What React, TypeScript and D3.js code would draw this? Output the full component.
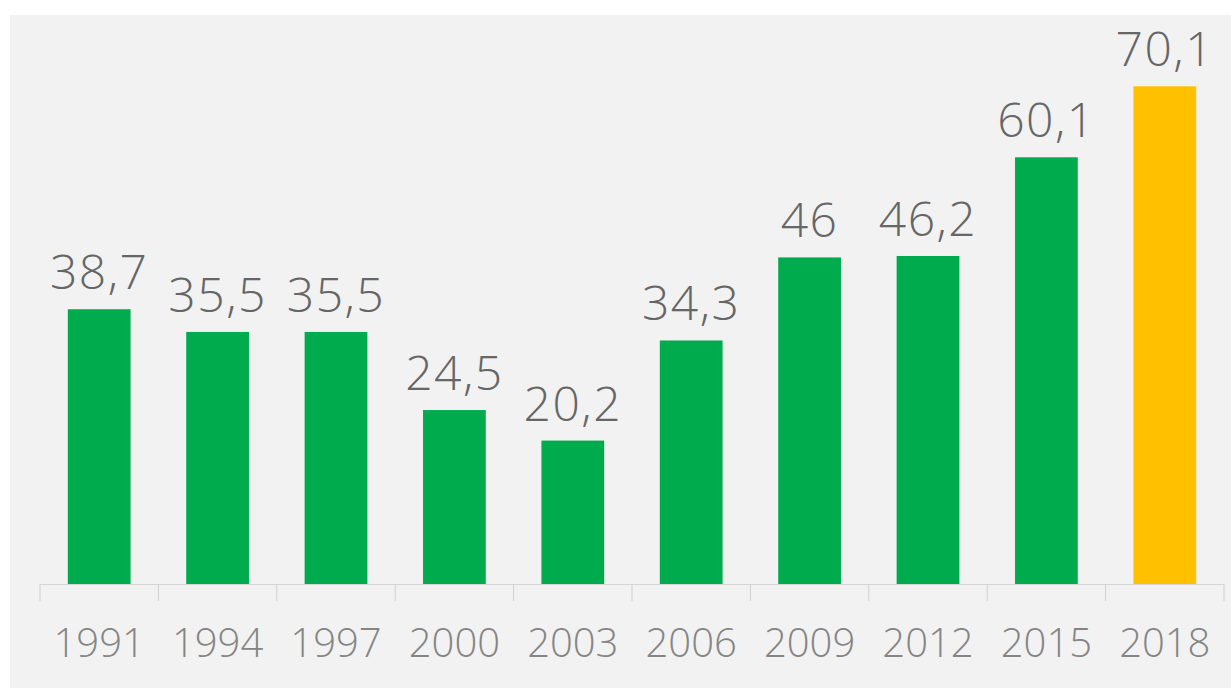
import React from "react";
import * as d3 from "d3";

const years = ["1991", "1994", "1997", "2000", "2003", "2006", "2009", "2012", "2015", "2018"];
const values = [38.7, 35.5, 35.5, 24.5, 20.2, 34.3, 46, 46.2, 60.1, 70.1];
const highlightYear = "2018";

const W = 1231;
const H = 688;
const axisY = 584;
const x0 = 40;
const x1 = 1224;

export default function App() {
  const x = d3.scaleBand<string>().domain(years).range([x0, x1]).paddingInner(0.47).paddingOuter(0.235);
  const y = d3.scaleLinear().domain([0, 70.1]).range([axisY, axisY - 70.1 * 7.1]);
  const step = (x1 - x0) / years.length;
  const tickXs = d3.range(years.length + 1).map((i) => x0 + i * step);
  const fmt = (v: number) => String(v).replace(".", ",");
  const font = "'Open Sans', 'DejaVu Sans', sans-serif";
  return (
    <svg width={W} height={H} style={{ position: "absolute", left: 0, top: 0 }}>
      <rect x={0} y={0} width={W} height={H} fill="#ffffff" />
      <rect x={10} y={15} width={W - 10} height={H - 15} fill="#f2f2f2" />
      {years.map((yr, i) => (
        <rect
          key={yr}
          x={x(yr)}
          y={y(values[i])}
          width={x.bandwidth()}
          height={axisY - y(values[i])}
          fill={yr === highlightYear ? "#ffc000" : "#00ab4e"}
        />
      ))}
      <line x1={x0} x2={x1} y1={axisY + 0.5} y2={axisY + 0.5} stroke="#d6d6d6" strokeWidth={1} />
      {tickXs.map((tx, i) => (
        <line key={i} x1={tx} x2={tx} y1={axisY} y2={axisY + 17} stroke="#d0d0d0" strokeWidth={1} />
      ))}
      {years.map((yr, i) => (
        <text
          key={"v" + yr}
          x={(x(yr) as number) + x.bandwidth() / 2}
          y={y(values[i]) - 20}
          textAnchor="middle"
          fontFamily={font}
          fontWeight={300}
          fontSize={48}
          letterSpacing={1.5}
          fill="#666666"
        >
          {fmt(values[i])}
        </text>
      ))}
      {years.map((yr) => (
        <text
          key={"l" + yr}
          x={(x(yr) as number) + x.bandwidth() / 2}
          y={657}
          textAnchor="middle"
          fontFamily={font}
          fontWeight={300}
          fontSize={40}
          fill="#858585"
        >
          {yr}
        </text>
      ))}
    </svg>
  );
}
